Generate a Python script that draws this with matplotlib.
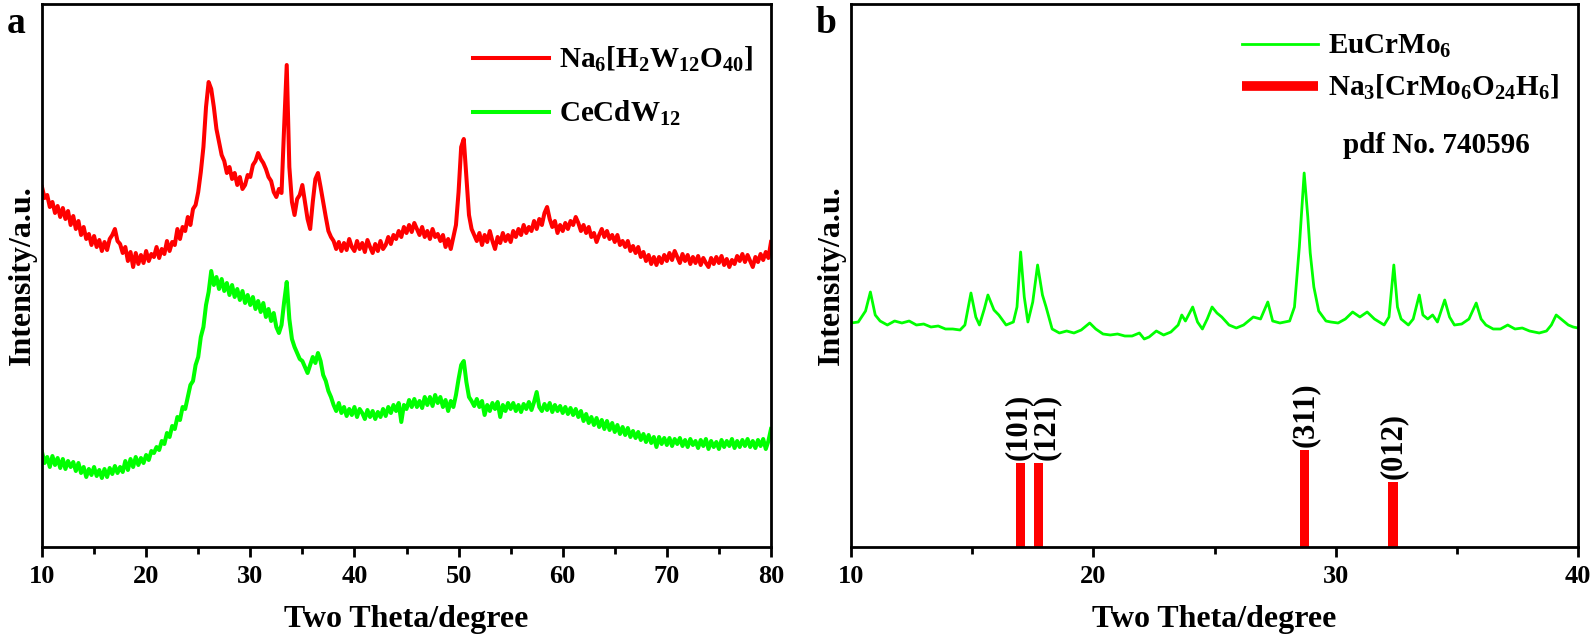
import matplotlib
matplotlib.use("Agg")
import matplotlib.pyplot as plt
from matplotlib.lines import Line2D
from matplotlib.ticker import MultipleLocator
import numpy as np

# panel a: 0.25 degree steps from 10 to 80
two_theta_a = np.arange(10, 80.001, 0.25)

na6_h2w12o40 = [
    360, 349, 352, 340,  # 10
    345, 334, 341, 330,
    339, 328, 336, 322,
    331, 318, 326, 312,
    320, 308, 313, 302,
    311, 300, 307, 296,  # 15
    305, 297, 308, 312,
    318, 306, 303, 294,
    300, 286, 295, 280,
    294, 283, 292, 284,
    296, 286, 293, 290,  # 20
    300, 289, 298, 293,
    306, 296, 305, 302,
    318, 308, 320, 316,
    330, 322, 338, 342,
    355, 375, 400, 440,  # 25
    465, 458, 440, 418,
    405, 392, 386, 374,
    380, 368, 374, 362,
    370, 358, 362, 372,
    370, 382, 386, 394,  # 30
    388, 384, 378, 370,
    366, 355, 350, 358,
    354, 420, 482, 380,
    345, 332, 348, 352,
    362, 345, 328, 318,  # 35
    345, 368, 374, 360,
    345, 330, 316, 310,
    306, 298, 305, 296,
    304, 297, 308, 300,
    296, 306, 298, 304,  # 40
    295, 307, 300, 294,
    303, 296, 306, 298,
    302, 310, 303, 312,
    308, 316, 310, 320,
    314, 322, 315, 324,  # 45
    318, 312, 320, 310,
    316, 308, 318, 310,
    313, 306, 312, 300,
    308, 298, 310, 322,
    355, 400, 408, 370,  # 50
    332, 318, 312, 306,
    314, 302, 312, 305,
    316, 306, 298, 310,
    304, 314, 306, 312,
    305, 316, 310, 318,  # 55
    312, 322, 314, 320,
    316, 326, 318, 328,
    322, 334, 340, 328,
    320, 326, 314, 322,
    316, 324, 318, 326,  # 60
    322, 330, 324, 316,
    322, 314, 320, 310,
    314, 305, 312, 318,
    310, 316, 308, 312,
    305, 312, 302, 306,  # 65
    300, 306, 296, 301,
    294, 300, 290, 295,
    286, 292, 283, 290,
    282, 290, 284, 292,
    286, 294, 287, 296,  # 70
    290, 284, 293, 286,
    292, 283, 290, 284,
    291, 282, 289, 284,
    280, 289, 283, 290,
    284, 291, 282, 288,  # 75
    280, 287, 283, 291,
    286, 293, 285, 292,
    286, 280, 290, 285,
    293, 287, 295, 289,
    305,  # 80
]

cecdw12 = [
    95, 84, 90, 80,  # 10
    91, 82, 89, 79,
    88, 78, 86, 80,
    85, 76, 84, 74,
    80, 70, 78, 72,
    80, 71, 77, 69,  # 15
    78, 70, 79, 73,
    81, 74, 80, 75,
    86, 77, 88, 80,
    90, 82, 89, 84,
    92, 87, 96, 94,  # 20
    100, 97, 106, 103,
    114, 110, 121, 118,
    130, 127, 140, 138,
    150, 162, 166, 182,
    190, 210, 220, 242,  # 25
    255, 276, 262, 270,
    258, 268, 256, 264,
    252, 262, 250, 258,
    247, 256, 244, 252,
    242, 250, 238, 246,  # 30
    235, 244, 230, 238,
    226, 234, 220, 214,
    222, 245, 265, 228,
    208, 200, 194, 188,
    186, 180, 174, 182,  # 35
    190, 184, 194, 186,
    172, 166, 156, 150,
    142, 136, 144, 134,
    140, 131, 138, 132,
    140, 130, 138, 134,  # 40
    128, 137, 130, 136,
    128, 135, 130, 138,
    131, 140, 134, 142,
    136, 144, 125, 142,
    138, 147, 140, 148,  # 45
    140, 146, 139, 150,
    142, 150, 141, 152,
    144, 150, 140, 147,
    136, 146, 140, 152,
    168, 182, 186, 165,  # 50
    150, 146, 141, 148,
    140, 146, 132, 142,
    136, 144, 138, 145,
    130, 142, 136, 144,
    138, 144, 136, 142,  # 55
    135, 143, 138, 145,
    137, 145, 155, 140,
    136, 143, 137, 144,
    135, 142, 136, 141,
    134, 140, 133, 139,  # 60
    132, 138, 130, 136,
    126, 133, 124, 130,
    122, 129, 120, 127,
    118, 126, 117, 124,
    115, 122, 113, 120,  # 65
    112, 119, 110, 116,
    109, 115, 107, 113,
    105, 112, 104, 110,
    100, 110, 103, 109,
    102, 109, 101, 108,  # 70
    103, 109, 101, 107,
    100, 108, 102, 106,
    99, 107, 101, 108,
    98, 106, 100, 105,
    98, 107, 100, 106,  # 75
    101, 108, 99, 106,
    100, 107, 101, 108,
    100, 106, 99, 107,
    101, 108, 98, 106,
    118,  # 80
]

# panel b
two_theta_b = [
    10.0, 10.3, 10.6, 10.8, 11.0, 11.2, 11.5, 11.8, 12.1, 12.4, 12.7, 13.0,
    13.3, 13.6, 13.9, 14.2, 14.5, 14.7, 14.95, 15.15, 15.3, 15.5, 15.65, 15.9,
    16.1, 16.4, 16.7, 16.85, 17.0, 17.15, 17.3, 17.5, 17.7, 17.9, 18.05, 18.3,
    18.6, 18.9, 19.2, 19.5, 19.85, 20.1, 20.4, 20.7, 21.0, 21.3, 21.6, 21.9,
    22.1, 22.3, 22.6, 22.9, 23.2, 23.5, 23.65, 23.8, 24.1, 24.3, 24.5, 24.7,
    24.9, 25.1, 25.3, 25.6, 25.9, 26.2, 26.6, 26.9, 27.2, 27.4, 27.7, 28.1,
    28.3, 28.5, 28.7, 28.85, 28.95, 29.1, 29.3, 29.6, 29.8, 30.1, 30.4, 30.7,
    31.0, 31.3, 31.6, 32.0, 32.2, 32.4, 32.55, 32.7, 33.0, 33.2, 33.45, 33.6,
    33.8, 34.0, 34.2, 34.5, 34.7, 34.9, 35.2, 35.5, 35.8, 36.0, 36.2, 36.5,
    36.8, 37.1, 37.4, 37.7, 38.0, 38.4, 38.7, 38.9, 39.1, 39.3, 39.6, 39.8,
    40.0,
]
eucrmo6 = [
    224, 225, 236, 255, 232, 226, 222, 226, 224, 226, 222, 223,
    220, 221, 218, 218, 217, 222, 254, 230, 222, 238, 252, 237,
    232, 222, 225, 240, 295, 250, 225, 245, 282, 252, 240, 218,
    214, 216, 214, 217, 224, 218, 213, 212, 213, 211, 211, 214,
    208, 210, 216, 212, 215, 222, 232, 226, 240, 225, 218, 228,
    240, 234, 230, 222, 219, 222, 230, 228, 245, 226, 224, 226,
    240, 300, 374, 330, 294, 260, 236, 226, 225, 224, 228, 235,
    230, 235, 228, 222, 230, 282, 240, 228, 222, 228, 252, 232,
    228, 232, 225, 247, 230, 222, 223, 228, 244, 228, 222, 218,
    218, 222, 218, 219, 216, 214, 216, 222, 232, 228, 222, 220,
    219,
]

# reference pattern Na3[CrMo6O24H6], pdf No. 740596
ref_pos = [17.0, 17.73, 28.73, 32.37]
ref_int = [84, 84, 97, 65]
ref_hkl = ["(101)", "(121)", "(311)", "(012)"]

RED = "#ff0000"
GREEN = "#00ff00"

plt.rcParams["font.family"] = ["Liberation Serif", "DejaVu Serif"]
plt.rcParams["font.weight"] = "bold"
plt.rcParams["mathtext.fontset"] = "custom"
plt.rcParams["mathtext.rm"] = "Liberation Serif:bold"
plt.rcParams["mathtext.it"] = "Liberation Serif:bold"
plt.rcParams["mathtext.bf"] = "Liberation Serif:bold"
plt.rcParams["mathtext.default"] = "rm"


def style_axes(ax, xmax):
    ax.set_xlim(10, xmax)
    ax.set_ylim(0, 543)
    ax.set_yticks([])
    ax.xaxis.set_major_locator(MultipleLocator(10))
    ax.xaxis.set_minor_locator(MultipleLocator(5))
    ax.tick_params(axis="x", which="major", direction="out", length=7, width=2,
                   labelsize=19, pad=6)
    ax.tick_params(axis="x", which="minor", direction="out", length=5, width=2)
    for lab in ax.get_xticklabels():
        lab.set_fontweight("bold")
    for sp in ax.spines.values():
        sp.set_linewidth(2)
    ax.set_xlabel("Two Theta/degree", fontsize=23, fontweight="bold", labelpad=12)
    ax.set_ylabel("Intensity/a.u.", fontsize=23, fontweight="bold", labelpad=4)


fig = plt.figure(figsize=(15.94, 6.4), dpi=100)
ax_a = fig.add_axes([42 / 1594, 93 / 640, 729 / 1594, 543 / 640])
ax_b = fig.add_axes([851 / 1594, 93 / 640, 727 / 1594, 543 / 640])

# --- panel a
ax_a.plot(two_theta_a, na6_h2w12o40, color=RED, lw=2.9,
          label=r"Na$_6$[H$_2$W$_{12}$O$_{40}$]")
ax_a.plot(two_theta_a, cecdw12, color=GREEN, lw=2.9, label=r"CeCdW$_{12}$")
style_axes(ax_a, 80)
ax_a.legend(loc="upper left", bbox_to_anchor=(0.591, 0.925), frameon=False,
            fontsize=21, handlelength=2.6, handletextpad=0.35, labelspacing=0.85,
            borderpad=0, borderaxespad=0)

# --- panel b
ax_b.plot(two_theta_b, eucrmo6, color=GREEN, lw=2.0, label=r"EuCrMo$_6$")
ax_b.bar(ref_pos, ref_int, width=0.38, color=RED)
label_dx = [-2, 6, 0, 0]
for x, h, t, dx in zip(ref_pos, ref_int, ref_hkl, label_dx):
    ax_b.annotate(t, (x, h), xytext=(dx, 2), textcoords="offset points",
                  rotation=90, ha="center", va="bottom", fontsize=22,
                  fontweight="bold")
style_axes(ax_b, 40)
handles = [
    Line2D([], [], color=GREEN, lw=2.0),
    Line2D([], [], color=RED, lw=7, solid_capstyle="butt"),
]
labels = [r"EuCrMo$_6$", r"Na$_3$[CrMo$_6$O$_{24}$H$_6$]"]
ax_b.legend(handles, labels, loc="upper left", bbox_to_anchor=(0.538, 0.947),
            frameon=False, fontsize=21, handlelength=2.6, handletextpad=0.35,
            labelspacing=0.45, borderpad=0, borderaxespad=0)
ax_b.text(0.677, 0.74, "pdf No. 740596", transform=ax_b.transAxes, fontsize=21,
          fontweight="bold", va="center", ha="left")

fig.text(7 / 1594, 1 - 33 / 640, "a", fontsize=27, fontweight="bold", va="baseline")
fig.text(815 / 1594, 1 - 33 / 640, "b", fontsize=27, fontweight="bold", va="baseline")

fig.savefig("out.png", dpi=100)
